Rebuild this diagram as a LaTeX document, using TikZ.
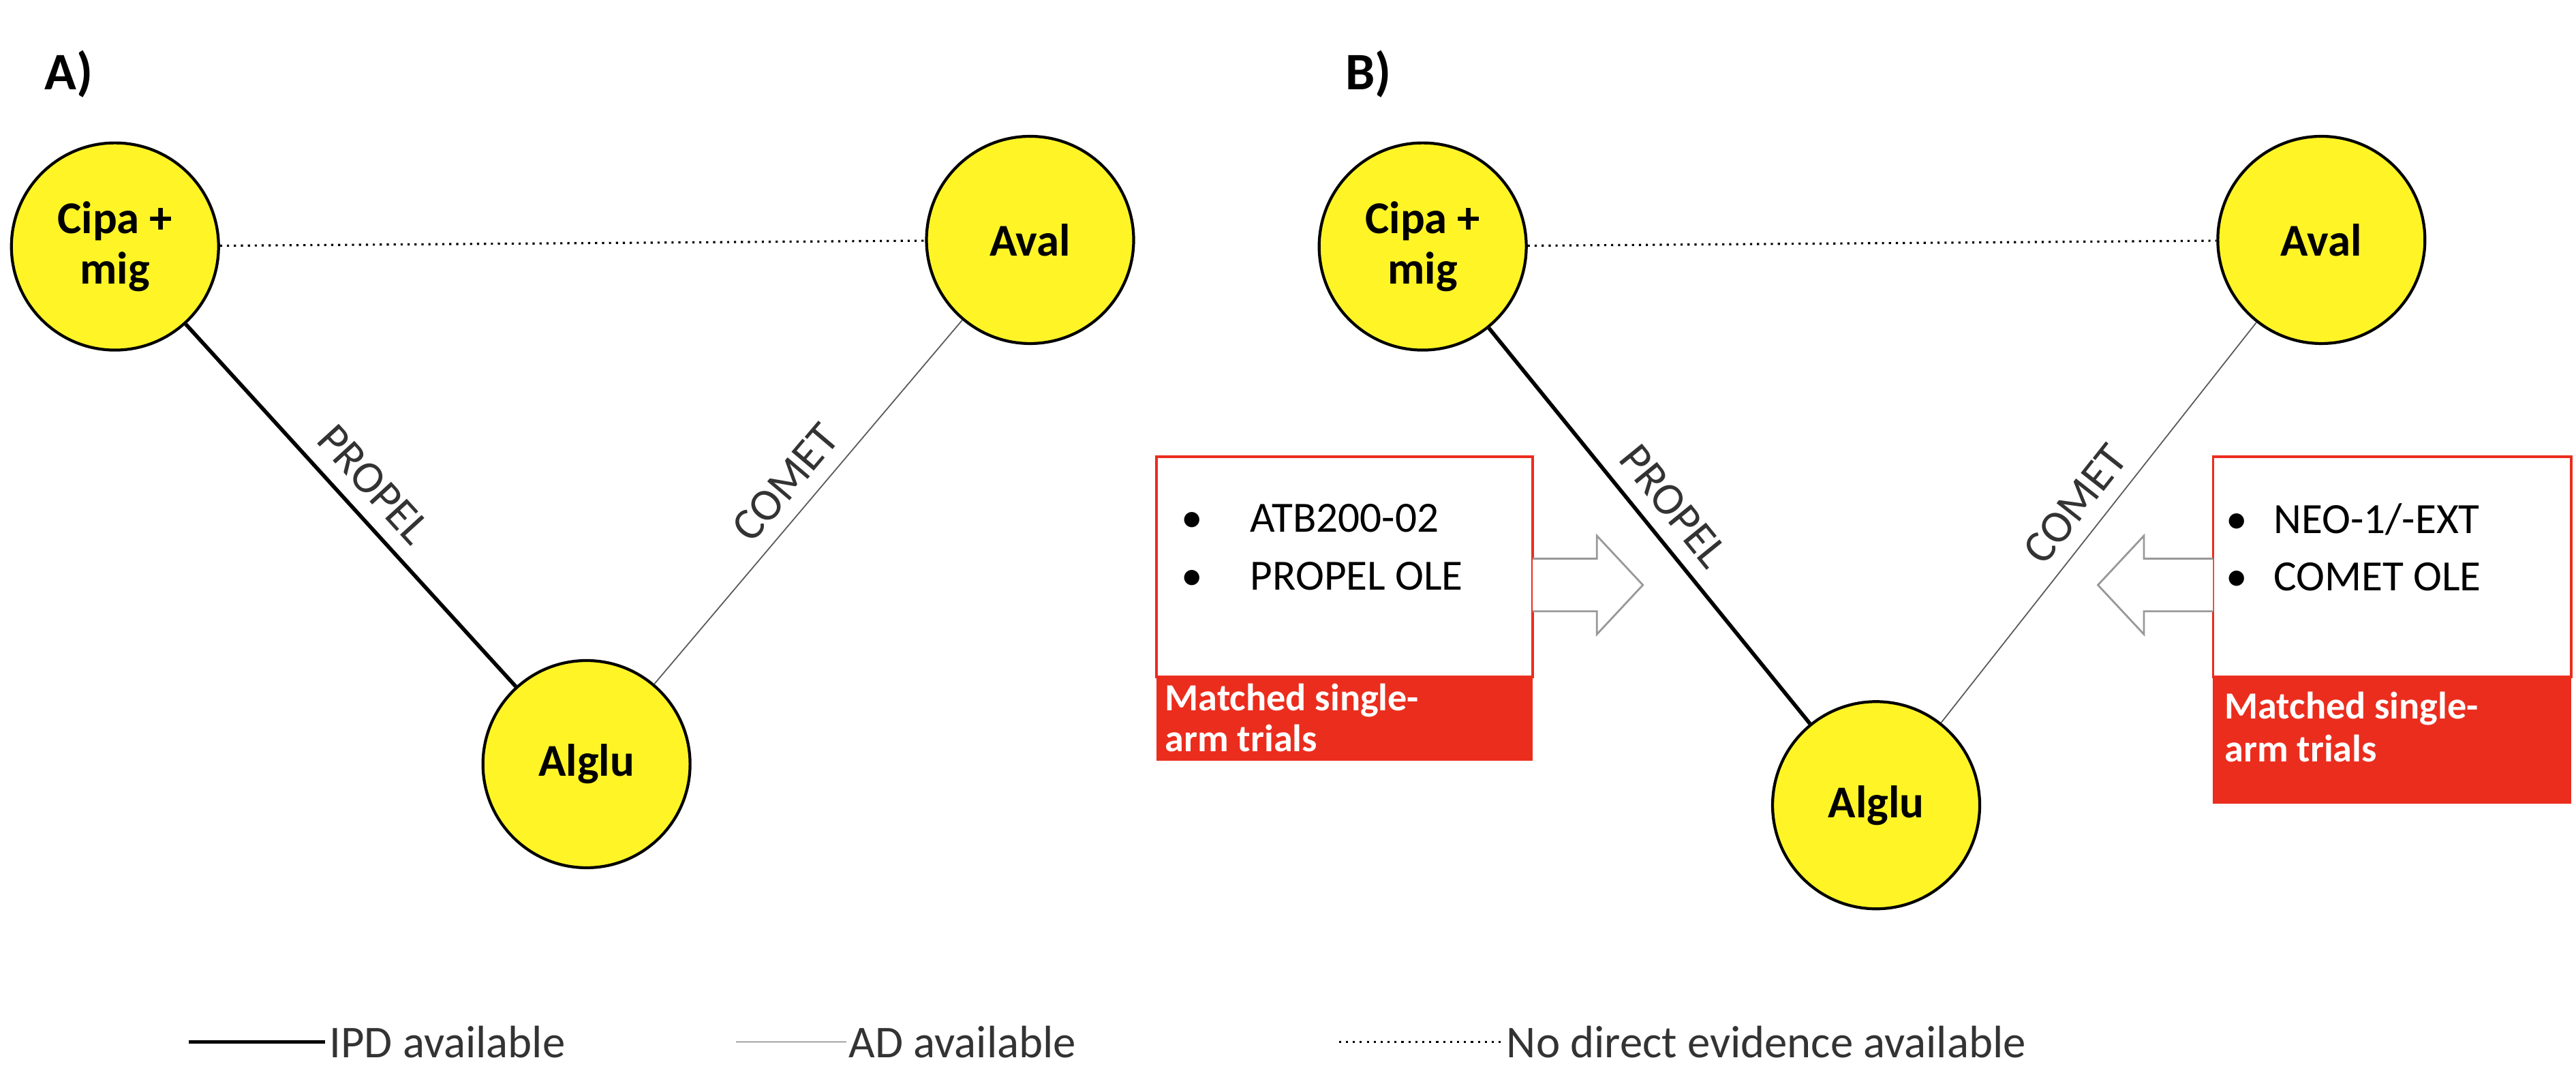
\documentclass[tikz,border=0pt]{standalone}
\usepackage{fontspec}
\setmainfont{Carlito}
\definecolor{rd}{RGB}{235,45,30}
\begin{document}
\begin{tikzpicture}[x=0.024107cm,y=-0.024107cm,
  nd/.style={circle,draw=black,line width=1.2pt,fill=yellow!85!white!100,minimum size=3.04cm,font=\fontsize{19}{21}\selectfont\bfseries,align=center,inner sep=0pt},
  ipd/.style={line width=1.6pt},
  ad/.style={line width=0.5pt,draw=gray!70!black},
  nde/.style={line width=0.9pt,dotted},
  lab/.style={font=\fontsize{19}{21}\selectfont,text=black!80,inner sep=1pt},
  blk/.style={draw=gray!80,line width=0.8pt,fill=white}]
\useasboundingbox (0,0) rectangle (1568,654);
\fill[white] (0,0) rectangle (1568,654);
\node[font=\fontsize{22}{24}\selectfont\bfseries] (la) at (42,45) {A)};
\node[font=\fontsize{22}{24}\selectfont\bfseries] (lb) at (833,45) {B)};
% A
\node[nd] (ca) at (70,150) {Cipa +\\mig};
\node[nd] (va) at (627,146) {Aval};
\node[nd] (aa) at (357,465) {Alglu};
\draw[nde] (ca) -- (va);
\draw[ipd] (ca) -- node[lab,sloped,above=5pt] {PROPEL} (aa);
\draw[ad] (aa) -- node[lab,sloped,above=5pt] {COMET} (va);
% B
\node[nd] (cb) at (866,150) {Cipa +\\mig};
\node[nd] (vb) at (1413,146) {Aval};
\node[nd] (ab) at (1142,490) {Alglu};
\draw[nde] (cb) -- (vb);
\draw[ipd] (cb) -- node[lab,sloped,above=5pt] {PROPEL} (ab);
\draw[ad] (ab) -- node[lab,sloped,above=5pt] {COMET} (vb);
% boxes
\draw[rd,line width=1pt,fill=white] (704,278) rectangle (933,412);
\fill[rd] (704,412) rectangle (933,463);
\node[anchor=west,font=\fontsize{18}{21}\selectfont,align=left] (t1) at (714,333) {\textbullet\hspace{1.1em}ATB200-02\\[3pt]\textbullet\hspace{1.1em}PROPEL OLE};
\node[anchor=north west,font=\fontsize{16}{17}\selectfont\bfseries,text=white,align=left,inner sep=2pt] (r1) at (706,413) {Matched single-\\arm trials};
\draw[blk] (933,340) -- (972,340) -- (972,326) -- (1000,356) -- (972,386) -- (972,372) -- (933,372);
\draw[rd,line width=1pt,fill=white] (1347,278) rectangle (1565,412);
\fill[rd] (1347,412) rectangle (1565,489);
\node[anchor=west,font=\fontsize{18}{21}\selectfont,align=left] (t2) at (1350,333) {\textbullet\hspace{0.6em}NEO-1/-EXT\\[3pt]\textbullet\hspace{0.6em}COMET OLE};
\node[anchor=north west,font=\fontsize{16}{18}\selectfont\bfseries,text=white,align=left] (r2) at (1349,416) {Matched single-\\arm trials};
\draw[blk] (1347,340) -- (1305,340) -- (1305,326) -- (1277,356) -- (1305,386) -- (1305,372) -- (1347,372);
% legend
\coordinate (l1a) at (115,634); \coordinate (l1b) at (198,634);
\draw[ipd] (l1a) -- (l1b) node[right=0pt,lab] {IPD available};
\coordinate (l2a) at (448,634); \coordinate (l2b) at (515,634);
\draw[ad] (l2a) -- (l2b) node[right=0pt,lab] {AD available};
\coordinate (l3a) at (815,634); \coordinate (l3b) at (915,634);
\draw[nde] (l3a) -- (l3b) node[right=0pt,lab] {No direct evidence available};
\end{tikzpicture}
\end{document}
